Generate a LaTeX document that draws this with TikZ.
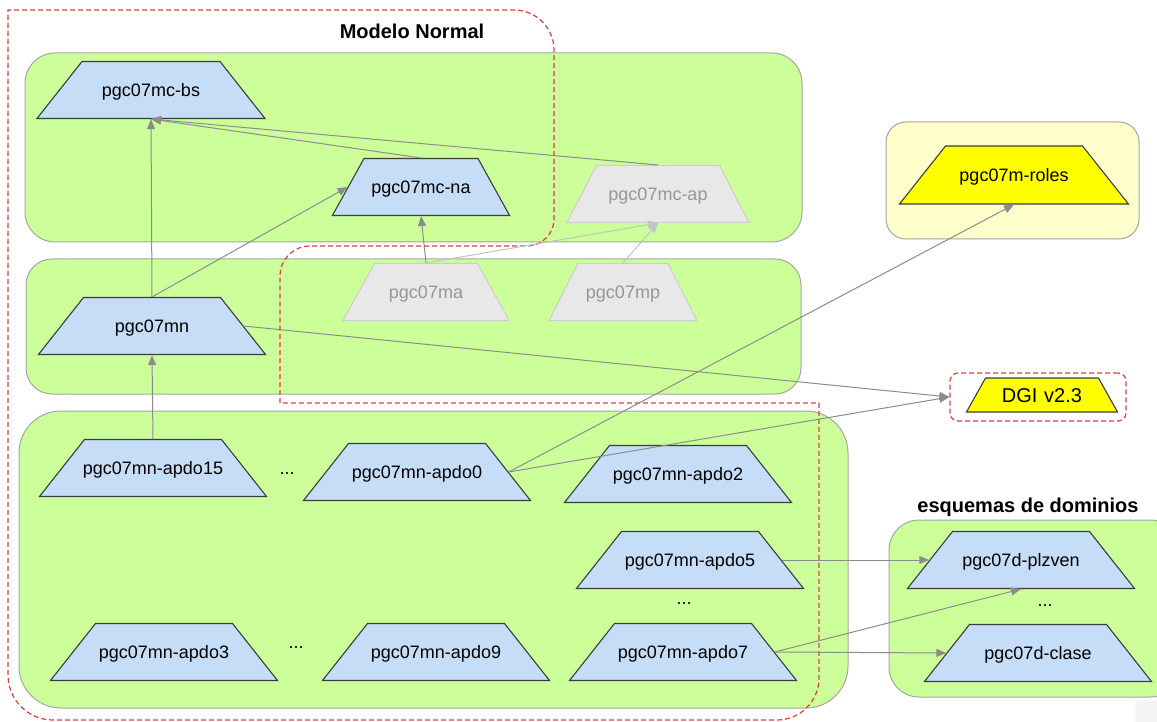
\documentclass[tikz,border=0pt]{standalone}
\usepackage{fontspec}
\setmainfont{Liberation Sans}
\usetikzlibrary{shapes.geometric,arrows.meta}
\definecolor{grn}{RGB}{204,255,153}
\definecolor{grnline}{RGB}{165,165,165}
\definecolor{blu}{RGB}{197,221,247}
\definecolor{tline}{RGB}{60,60,60}
\definecolor{gfill}{RGB}{232,232,232}
\definecolor{gline}{RGB}{205,205,205}
\definecolor{gtext}{RGB}{150,150,150}
\definecolor{ylw}{RGB}{255,255,0}
\definecolor{ybox}{RGB}{255,255,204}
\definecolor{redd}{RGB}{228,60,60}
\definecolor{arr}{RGB}{140,140,140}
\definecolor{arrl}{RGB}{195,195,195}
\newcommand{\ctxt}[1]{\makebox[0pt]{#1}}
\begin{document}
\begin{tikzpicture}[x=1pt,y=-1pt,
  grp/.style={fill=grn,draw=grnline,line width=1pt},
  trap/.style 2 args={shape=trapezium,trapezium angle=#2,inner sep=0pt,
    text width=#1,align=center,text height=35pt,text depth=22pt,
    font=\fontsize{18pt}{20pt}\selectfont},
  bluetrap/.style={fill=blu,draw=tline,line width=1.1pt},
  graytrap/.style={fill=gfill,draw=gline,line width=1pt,text=gtext},
  yeltrap/.style={fill=ylw,draw=tline,line width=1.1pt},
  reddash/.style={draw=redd,line width=1.2pt,dash pattern=on 5pt off 3pt},
  conn/.style={draw=arr,line width=1pt,-{Triangle[length=10pt,width=8pt]}},
  connl/.style={draw=arrl,line width=1pt,-{Triangle[length=10pt,width=8pt]}},
  dots/.style={font=\fontsize{18pt}{20pt}\selectfont},
  title/.style={font=\fontsize{20pt}{22pt}\selectfont\bfseries}
]
\useasboundingbox (0,0) rectangle (1157,722);
\clip (0,0) rectangle (1157,722);
\fill[white] (0,0) rectangle (1157,722);

% group boxes
\draw[grp,rounded corners=30pt] (25,53) rectangle (802,242);
\draw[grp,rounded corners=26pt] (26,259) rectangle (801,394);
\draw[grp,rounded corners=42pt] (19,411) rectangle (848,708);
\draw[grp,fill=ybox,rounded corners=20pt] (886,122) rectangle (1139,239);
\draw[grp,rounded corners=30pt] (889,520) rectangle (1180,697);
\fill[gray!8] (1135,700) rectangle (1157,722);

% dashed outline "Modelo Normal"
\draw[reddash] (8,380) -- (8,10) [rounded corners=40pt] -- (554,10)
  [rounded corners=27pt] -- (554,246) [rounded corners=30pt] -- (280,246)
  [sharp corners] -- (280,403) -- (819,403) [rounded corners=42pt] -- (819,720)
  [rounded corners=45pt] -- (8,720) [rounded corners=33pt] -- (8,380);

\node[reddash,rounded corners=8pt,minimum width=176pt,minimum height=48pt] (dgig) at (1038,397) {};

% labels
\node[title] (lmn) at (412,31) {Modelo Normal};
\node[title] (ldom) at (1028,507) {esquemas de dominios};

% trapezia
\node[trap={138pt}{51.7},bluetrap] (bs) at (151,90) {\ctxt{pgc07mc-bs}};
\node[trap={114pt}{61},bluetrap] (na) at (421,187) {\ctxt{pgc07mc-na}};
\node[trap={123pt}{62.6},graytrap] (ap) at (658,194) {\ctxt{pgc07mc-ap}};
\node[trap={103pt}{61},graytrap] (ma) at (426,292) {\ctxt{pgc07ma}};
\node[trap={90pt}{63},graytrap] (mp) at (623,292) {\ctxt{pgc07mp}};
\node[trap={137pt}{51.7},bluetrap] (mn) at (152,326) {\ctxt{pgc07mn}};
\node[trap={137pt}{51.6},yeltrap,text height=35.5pt,text depth=22.5pt] (roles) at (1014,175) {\ctxt{pgc07m-roles}};
\node[trap={113pt}{60.8},yeltrap,text height=24.5pt,text depth=9.5pt,font=\fontsize{20pt}{22pt}\selectfont] (dgi) at (1042,395) {\ctxt{DGI v2.3}};
\node[trap={137pt}{51.7},bluetrap] (a15) at (153,468) {\ctxt{pgc07mn-apdo15}};
\node[trap={137pt}{51.7},bluetrap] (a0) at (417,472) {\ctxt{pgc07mn-apdo0}};
\node[trap={137pt}{51.7},bluetrap] (a2) at (678,474) {\ctxt{pgc07mn-apdo2}};
\node[trap={137pt}{51.7},bluetrap] (a5) at (690,560) {\ctxt{pgc07mn-apdo5}};
\node[trap={137pt}{51.7},bluetrap] (a7) at (683,652) {\ctxt{pgc07mn-apdo7}};
\node[trap={137pt}{51.7},bluetrap] (a3) at (164,652) {\ctxt{pgc07mn-apdo3}};
\node[trap={137pt}{51.7},bluetrap] (a9) at (436,652) {\ctxt{pgc07mn-apdo9}};
\node[trap={137pt}{51.7},bluetrap] (plz) at (1021,560) {\ctxt{pgc07d-plzven}};
\node[trap={137pt}{51.7},bluetrap] (cla) at (1038,653) {\ctxt{pgc07d-clase}};

% dots
\node[dots] (d1) at (287,474) {...};
\node[dots] (d2) at (296,648) {...};
\node[dots] (d3) at (684,604) {...};
\node[dots] (d4) at (1045,606) {...};

% connectors
\draw[conn] (mn.top side) -- (bs.bottom side);
\draw[conn] (mn.top side) -- (na.left side);
\draw[conn] (na.top side) -- (bs.bottom side);
\draw[conn] (ap.top side) -- (bs.bottom side);
\draw[conn] (ma.top side) -- (na.bottom side);
\draw[connl] (ma.top side) -- (ap.bottom side);
\draw[connl] (mp.top side) -- (ap.bottom side);
\draw[conn] (mn.right side) -- (dgig.west);
\draw[conn] (a0.right side) -- (dgig.west);
\draw[conn] (a0.right side) -- (roles.bottom side);
\draw[conn] (a15.top side) -- (mn.bottom side);
\draw[conn] (a5.right side) -- (plz.left side);
\draw[conn] (a7.right side) -- (plz.bottom side);
\draw[conn] (a7.right side) -- (cla.left side);
\end{tikzpicture}
\end{document}
